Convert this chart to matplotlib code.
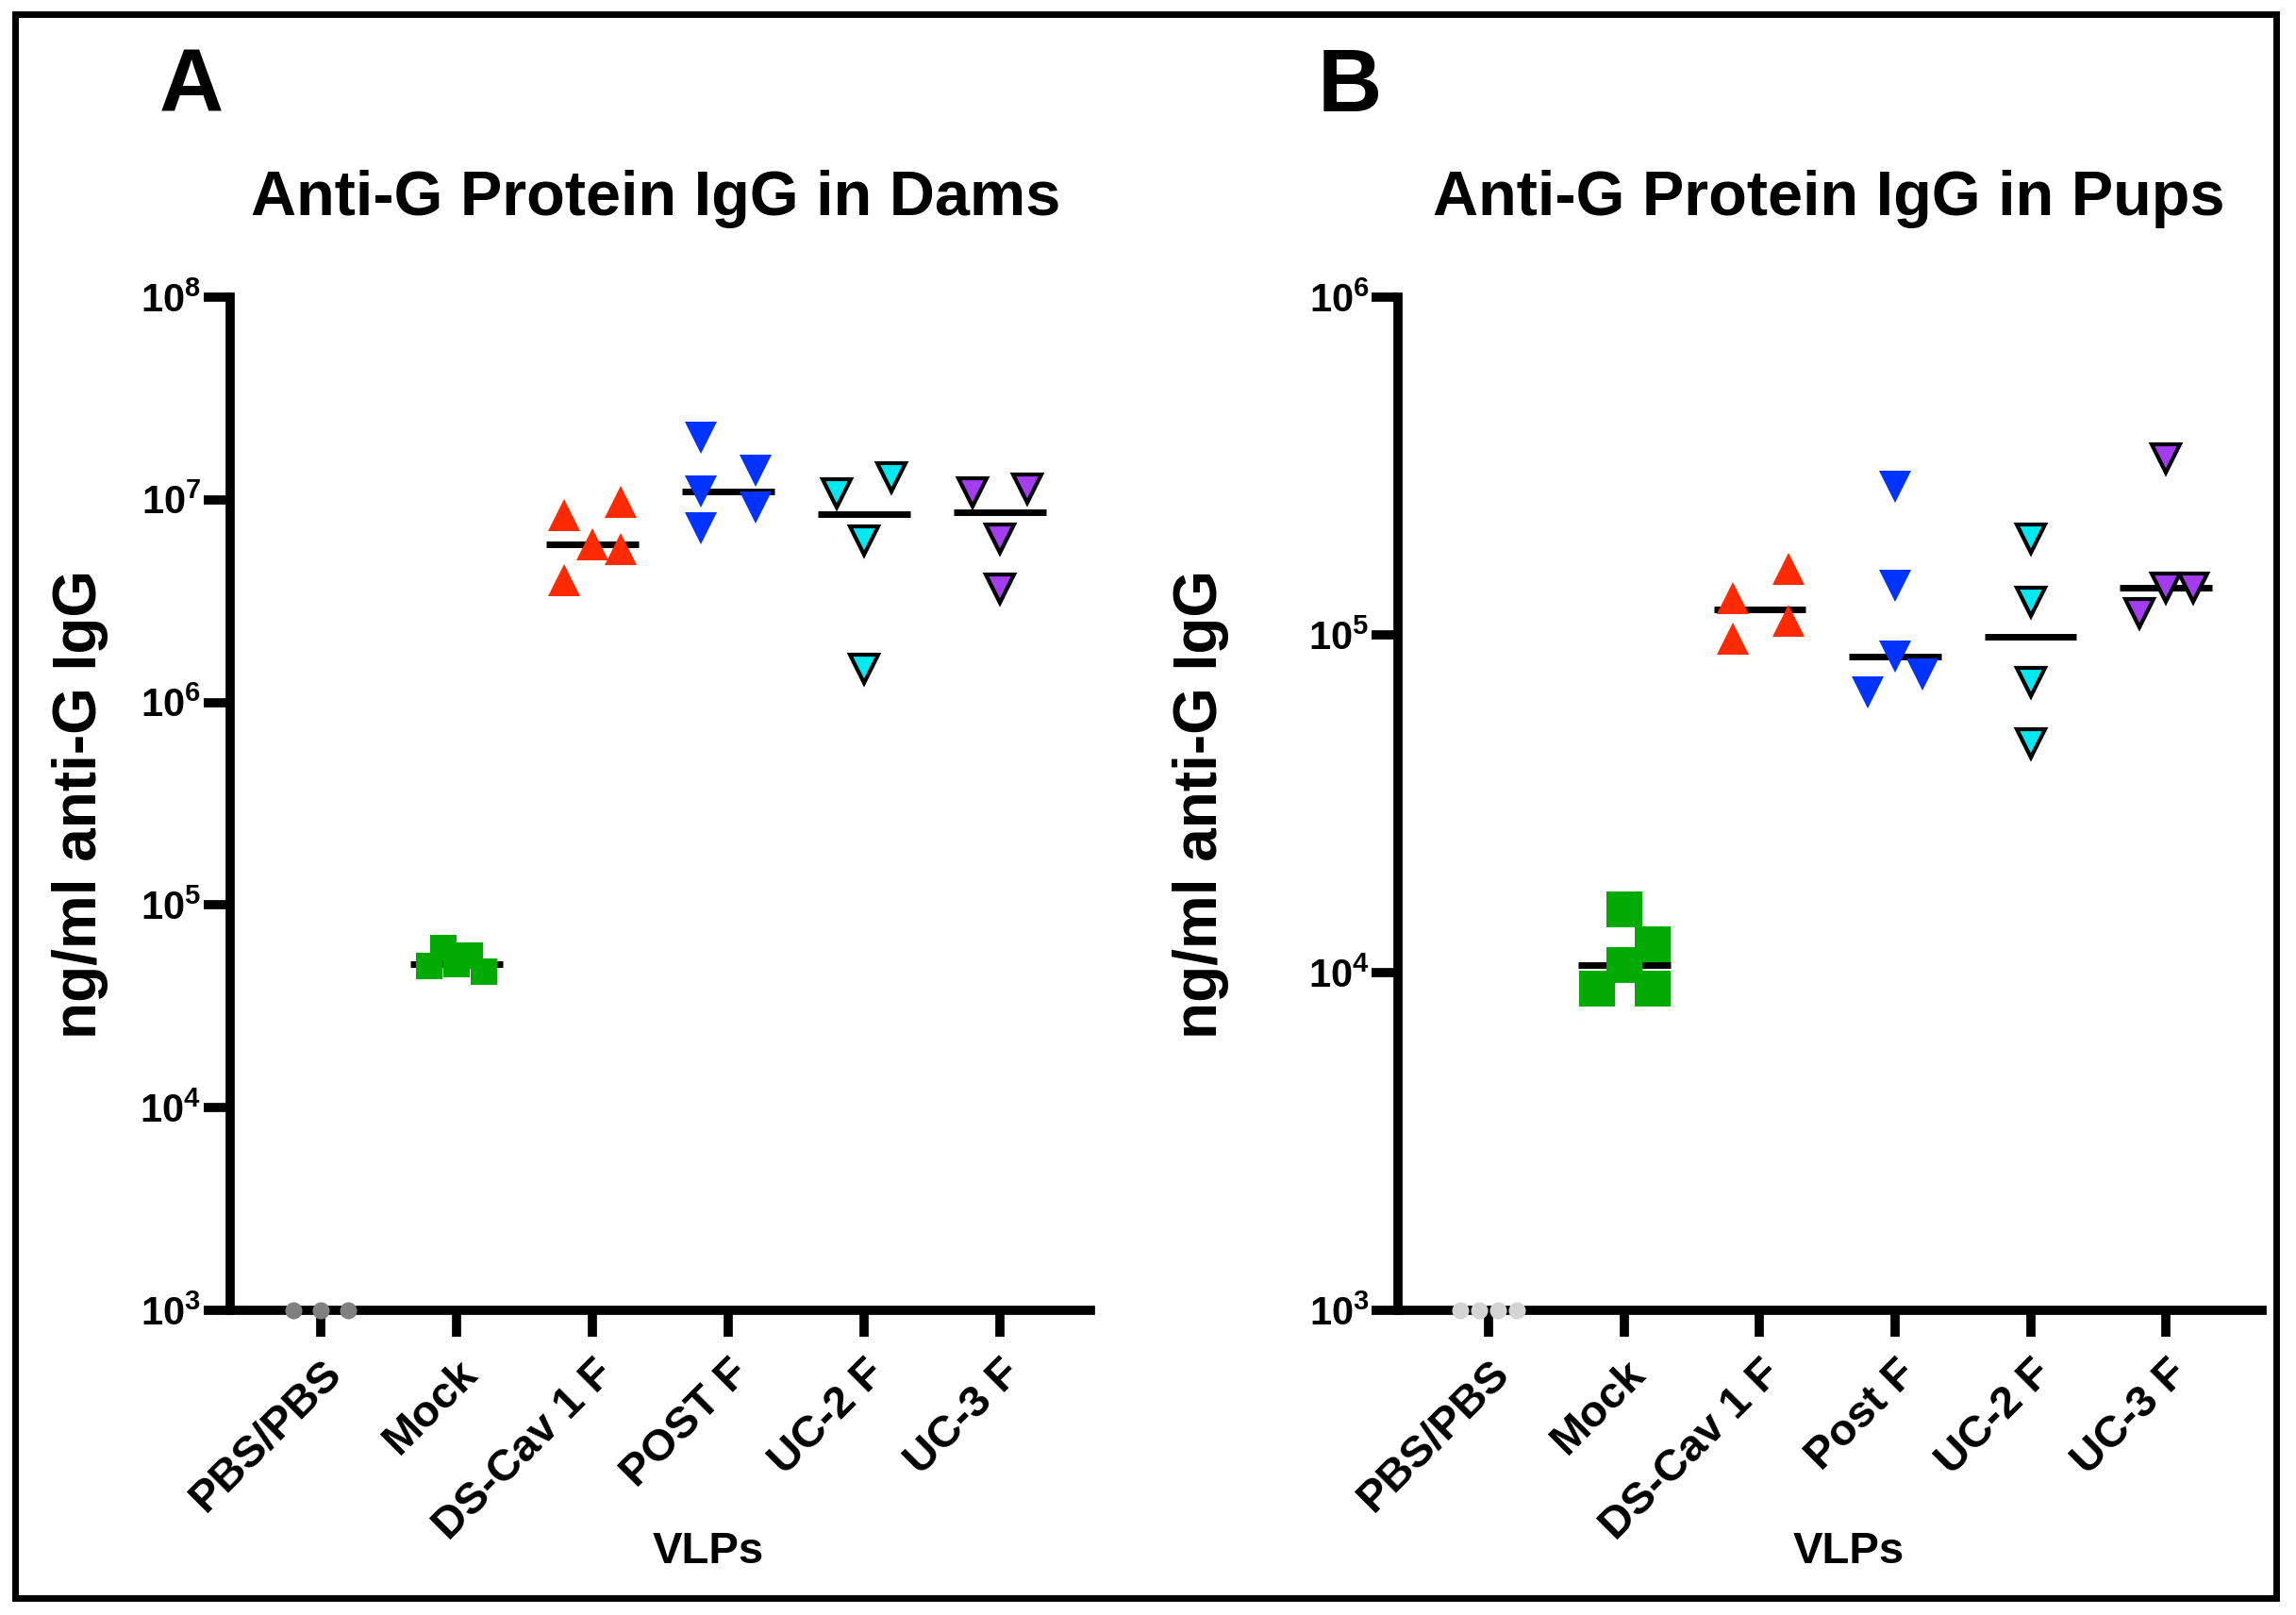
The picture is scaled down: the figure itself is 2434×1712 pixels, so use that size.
import matplotlib
matplotlib.use('Agg')
import matplotlib.pyplot as plt
from matplotlib.patches import Rectangle
from matplotlib.ticker import FixedLocator, NullLocator, FuncFormatter
import numpy as np

plt.rcParams['font.family'] = ['Liberation Sans', 'DejaVu Sans']
plt.rcParams['font.weight'] = 'bold'
plt.rcParams['mathtext.fontset'] = 'custom'
plt.rcParams['mathtext.rm'] = 'Liberation Sans:bold'
plt.rcParams['mathtext.bf'] = 'Liberation Sans:bold'

# ---- Panel A: anti-G IgG in dams (ng/ml) ----
dam_groups = ['PBS/PBS', 'Mock', 'DS-Cav 1 F', 'POST F', 'UC-2 F', 'UC-3 F']
dam_pbs = [1e3, 1e3, 1e3]
dam_mock = [5.0e4, 6.1e4, 5.1e4, 5.6e4, 4.7e4]
dam_dscav = [8.4e6, 9.8e6, 6.0e6, 5.7e6, 4.0e6]
dam_postf = [2.02e7, 1.10e7, 7.2e6, 1.39e7, 9.2e6]
dam_uc2 = [1.07e7, 1.29e7, 6.3e6, 1.46e6]
dam_uc3 = [1.09e7, 1.13e7, 6.4e6, 3.66e6]
dam_values = [dam_pbs, dam_mock, dam_dscav, dam_postf, dam_uc2, dam_uc3]

# ---- Panel B: anti-G IgG in pups (ng/ml) ----
pup_groups = ['PBS/PBS', 'Mock', 'DS-Cav 1 F', 'Post F', 'UC-2 F', 'UC-3 F']
pup_pbs = [1e3, 1e3, 1e3, 1e3]
pup_mock = [1.54e4, 1.21e4, 1.05e4, 8.97e3, 8.97e3]
pup_dscav = [1.285e5, 1.57e5, 1.10e5, 9.75e4]
pup_postf = [2.75e5, 1.40e5, 8.6e4, 7.65e4, 6.76e4]
pup_uc2 = [1.93e5, 1.25e5, 7.24e4, 4.77e4]
pup_uc3 = [3.33e5, 1.38e5, 1.38e5, 1.16e5]
pup_values = [pup_pbs, pup_mock, pup_dscav, pup_postf, pup_uc2, pup_uc3]

# horizontal scatter of the points inside each group (category units)
dam_jitter = [[-0.2, 0, 0.2],
              [-0.2, -0.1, 0, 0.1, 0.2],
              [-0.21, 0.21, 0, 0.21, -0.21],
              [-0.2, -0.2, -0.2, 0.2, 0.2],
              [-0.2, 0.2, 0, 0],
              [-0.2, 0.2, 0, 0]]
pup_jitter = [[-0.21, -0.07, 0.07, 0.21],
              [0, 0.21, 0, -0.2, 0.21],
              [-0.2, 0.21, 0.21, -0.2],
              [0, 0, 0, 0.2, -0.2],
              [0, 0, 0, 0],
              [0, 0, 0.2, -0.2]]

# marker, size, face, edge
dam_styles = [('o', 13, '#808080', 'none'),
              ('s', 20, '#00aa00', 'none'),
              ('^', 25, '#ff2a00', 'none'),
              ('v', 25, '#0033ff', 'none'),
              ('v', 22, '#00e8f0', 'black'),
              ('v', 22, '#a43cf0', 'black')]
pup_styles = [('o', 13, '#d4d4d4', 'none'),
              ('s', 27, '#00aa00', 'none'),
              ('^', 25, '#ff2a00', 'none'),
              ('v', 25, '#0033ff', 'none'),
              ('v', 22, '#00e8f0', 'black'),
              ('v', 22, '#a43cf0', 'black')]


def draw_panel(ax, groups, values, jitter, styles, ymax, xlim):
    for i, (vals, dx, st) in enumerate(zip(values, jitter, styles)):
        marker, ms, face, edge = st
        x = i + np.array(dx)
        if i > 0:
            med = np.median(vals)
            ax.plot([i - 0.34, i + 0.34], [med, med], color='black', lw=5,
                    zorder=2, solid_capstyle='butt')
        ax.plot(x, vals, linestyle='none', marker=marker, markersize=ms,
                markerfacecolor=face, markeredgecolor=edge,
                markeredgewidth=3 if edge != 'none' else 0,
                zorder=4, clip_on=False)

    ax.set_yscale('log')
    ax.set_ylim(1e3, ymax)
    ax.set_xlim(*xlim)
    decades = 10.0 ** np.arange(3, int(np.log10(ymax)) + 1)
    ax.yaxis.set_major_locator(FixedLocator(decades))
    ax.yaxis.set_minor_locator(NullLocator())
    ax.yaxis.set_major_formatter(
        FuncFormatter(lambda v, p: r'$\mathbf{10^{%d}}$' % round(np.log10(v))))
    ax.set_xticks(range(len(groups)))
    ax.set_xticklabels(groups, rotation=45, ha='right', va='top',
                       rotation_mode='anchor', fontsize=34, fontweight='bold')

    for side in ['top', 'right']:
        ax.spines[side].set_visible(False)
    for side in ['left', 'bottom']:
        ax.spines[side].set_linewidth(7)
    ax.tick_params(axis='y', length=20, width=7, labelsize=30, pad=2)
    ax.tick_params(axis='x', length=20, width=7, pad=12)


fig = plt.figure(figsize=(24.34, 17.12), dpi=100)

ax_a = fig.add_axes([0.1001, 0.1887, 0.3749, 0.6273])
ax_b = fig.add_axes([0.6089, 0.1887, 0.3764, 0.6273])

draw_panel(ax_a, dam_groups, dam_values, dam_jitter, dam_styles, 1e8, (-0.67, 5.67))
draw_panel(ax_b, pup_groups, pup_values, pup_jitter, pup_styles, 1e6, (-0.67, 5.71))

# panel letters, titles and axis labels
fig.text(0.0834, 0.931, 'A', fontsize=68, fontweight='bold', ha='center', va='baseline')
fig.text(0.588, 0.931, 'B', fontsize=68, fontweight='bold', ha='center', va='baseline')
fig.text(0.2855, 0.867, 'Anti-G Protein IgG in Dams', fontsize=48,
         fontweight='bold', ha='center', va='baseline')
fig.text(0.7966, 0.867, 'Anti-G Protein IgG in Pups', fontsize=48,
         fontweight='bold', ha='center', va='baseline')
fig.text(0.035, 0.502, 'ng/ml anti-G IgG', fontsize=46, fontweight='bold',
         rotation=90, ha='center', va='center')
fig.text(0.523, 0.502, 'ng/ml anti-G IgG', fontsize=46, fontweight='bold',
         rotation=90, ha='center', va='center')
fig.text(0.3086, 0.039, 'VLPs', fontsize=34, fontweight='bold', ha='center', va='center')
fig.text(0.805, 0.039, 'VLPs', fontsize=34, fontweight='bold', ha='center', va='center')

# black frame round the whole figure
fig.patches.append(Rectangle((0.0066, 0.0105), 0.9848, 0.9805, transform=fig.transFigure,
                             fill=False, edgecolor='black', linewidth=5))

fig.savefig('out.png', dpi=100)
